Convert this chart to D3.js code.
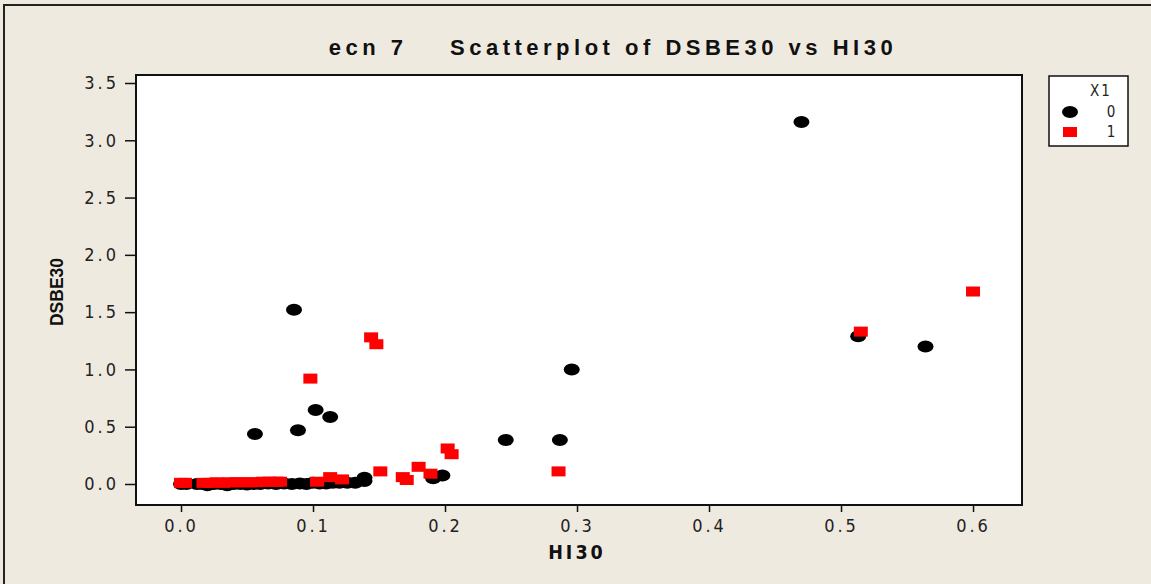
<!DOCTYPE html>
<html><head><meta charset="utf-8">
<script src="https://cdn.jsdelivr.net/npm/d3@7"></script>
<style>body{margin:0;background:#efeae0;}svg{display:block;}</style>
</head><body>
<script>
// Group X1 = 0 (black ellipses)
const x0 = [0.470,0.0856,0.513,0.564,0.296,0.102,0.113,0.0886,0.056,0.246,0.287,0.198,0.191,0.139,0.139,
  0.000,0.004,0.012,0.016,0.020,0.025,0.030,0.035,0.040,0.045,0.050,0.055,0.060,0.066,0.072,0.078,0.084,0.090,0.095,0.100,0.105,0.110,0.115,0.120,0.126,0.132];
const y0 = [3.16,1.52,1.29,1.20,1.00,0.646,0.585,0.47,0.436,0.384,0.384,0.075,0.05,0.026,0.055,
  0.0,0.0,0.0,0.0,-0.01,0.0,0.0,-0.01,0.0,0.0,-0.005,0.0,0.0,0.005,0.0,0.005,0.0,0.005,0.0,0.01,0.005,0.005,0.01,0.01,0.01,0.01];
// Group X1 = 1 (red squares)
const x1 = [0.600,0.515,0.144,0.148,0.098,0.202,0.205,0.286,0.151,0.180,0.189,0.168,0.171,0.113,0.122,0.103,
  0.000,0.003,0.017,0.022,0.027,0.032,0.037,0.042,0.047,0.052,0.057,0.062,0.067,0.072,0.075];
const y1 = [1.68,1.33,1.28,1.22,0.92,0.31,0.26,0.11,0.11,0.15,0.09,0.06,0.035,0.06,0.04,0.02,
  0.01,0.01,0.01,0.01,0.015,0.01,0.015,0.015,0.015,0.015,0.015,0.02,0.02,0.02,0.02];
const xTicks = [0.0,0.1,0.2,0.3,0.4,0.5,0.6];
const yTicks = [0.0,0.5,1.0,1.5,2.0,2.5,3.0,3.5];
const legendTitle = "X1";
const groups = ["0","1"];

const W = 1151, H = 584;
const L = 136, R = 1022, T = 75, B = 505;
const svg = d3.select("body").append("svg").attr("width", W).attr("height", H);
svg.append("rect").attr("x",0).attr("y",0).attr("width",W).attr("height",H).attr("fill","#efeae0");
svg.append("rect").attr("x",4).attr("y",5).attr("width",1300).attr("height",700)
  .attr("fill","none").attr("stroke","#222").attr("stroke-width",2);

const x = d3.scaleLinear().domain([-0.0341, 0.6371]).range([L, R]);
const y = d3.scaleLinear().domain([-0.1833, 3.5698]).range([B, T]);

svg.append("rect").attr("x",L).attr("y",T).attr("width",R-L).attr("height",B-T)
  .attr("fill","#fff");

const tickFont = "'Liberation Sans Narrow','DejaVu Sans Condensed','Liberation Sans',sans-serif";

const xAxis = svg.append("g").attr("transform",`translate(0,${B})`)
  .call(d3.axisBottom(x).tickValues(xTicks).tickFormat(d3.format(".1f")).tickSize(7).tickPadding(7));
const yAxis = svg.append("g").attr("transform",`translate(${L},0)`)
  .call(d3.axisLeft(y).tickValues(yTicks).tickFormat(d3.format(".1f")).tickSize(11).tickPadding(6));
[xAxis,yAxis].forEach(a=>{
  a.select(".domain").remove();
  a.selectAll("line").attr("stroke","#111").attr("stroke-width",1.5);
  a.selectAll("text").attr("fill","#222").style("font-family",tickFont).style("font-size","18px").style("letter-spacing","3px");
});

const plot = svg.append("g");
const d0 = x0.map((v,i)=>({x:v,y:y0[i]}));
const d1 = x1.map((v,i)=>({x:v,y:y1[i]}));
plot.selectAll("ellipse.p0").data(d0).join("ellipse").attr("class","p0")
  .attr("cx",d=>x(d.x)).attr("cy",d=>y(d.y)).attr("rx",8).attr("ry",6).attr("fill","#000");
plot.selectAll("rect.p1").data(d1).join("rect").attr("class","p1")
  .attr("x",d=>x(d.x)-7).attr("y",d=>y(d.y)-5).attr("width",14).attr("height",10).attr("fill","#ff0000");

svg.append("rect").attr("x",L).attr("y",T).attr("width",R-L).attr("height",B-T)
  .attr("fill","none").attr("stroke","#111").attr("stroke-width",2);

svg.append("text").attr("x",613).attr("y",55).attr("text-anchor","middle")
  .style("font-family","'Liberation Sans',Arial,sans-serif").style("font-weight","bold")
  .style("font-size","22px").style("letter-spacing","4.5px").attr("fill","#111")
  .attr("xml:space","preserve").style("white-space","pre")
  .text("ecn 7    Scatterplot of DSBE30 vs HI30");

svg.append("text").attr("transform","translate(63,292) rotate(-90)").attr("text-anchor","middle")
  .style("font-family","'Liberation Sans',Arial,sans-serif").style("font-weight","bold")
  .style("font-size","17.5px").attr("fill","#111").text("DSBE30");

svg.append("text").attr("x",577).attr("y",559).attr("text-anchor","middle")
  .style("font-family",tickFont).style("font-weight","bold")
  .style("font-size","19.5px").style("letter-spacing","3px").attr("fill","#111").text("HI30");

// legend
const lg = svg.append("g");
lg.append("rect").attr("x",1049).attr("y",76).attr("width",79).attr("height",70)
  .attr("fill","#fff").attr("stroke","#111").attr("stroke-width",1.5);
lg.append("text").attr("x",1101).attr("y",96).attr("text-anchor","middle")
  .style("font-family",tickFont).style("font-size","15px").style("letter-spacing","2px").attr("fill","#222").text(legendTitle);
groups.forEach((g,i)=>{
  const cy = 112 + i*20;
  if(i===0) lg.append("ellipse").attr("cx",1070).attr("cy",cy).attr("rx",8).attr("ry",6).attr("fill","#000");
  else lg.append("rect").attr("x",1063).attr("y",cy-5).attr("width",14).attr("height",10).attr("fill","#ff0000");
  lg.append("text").attr("x",1111).attr("y",cy+5).attr("text-anchor","middle")
    .style("font-family",tickFont).style("font-size","15px").attr("fill","#222").text(g);
});
</script>
</body></html>
